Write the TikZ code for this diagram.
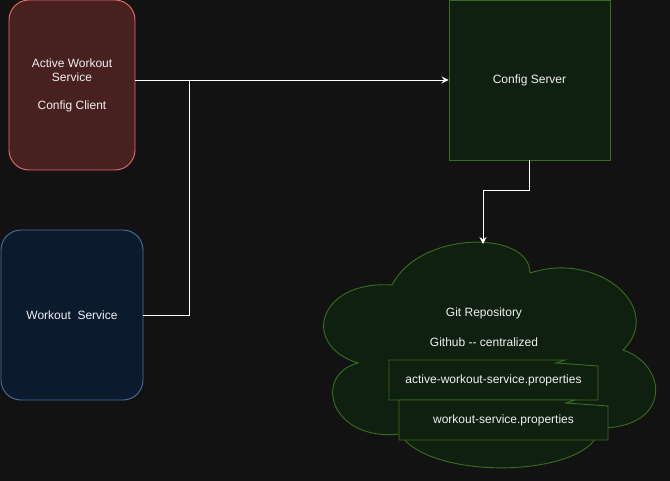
\documentclass[tikz,border=0pt]{standalone}
\usepackage{fontspec}
\setmainfont{Liberation Sans}
\usepackage{tikz}
\usetikzlibrary{calc,arrows.meta}
\definecolor{bgcol}{RGB}{18,18,18}
\definecolor{clientfill}{RGB}{72,32,32}
\definecolor{clientdraw}{RGB}{234,110,107}
\definecolor{servicefill}{RGB}{12,26,46}
\definecolor{servicedraw}{RGB}{74,111,165}
\definecolor{serverfill}{RGB}{16,32,16}
\definecolor{serverdraw}{RGB}{56,110,30}
\definecolor{txtcol}{RGB}{240,240,240}
\tikzstyle{arrow} = [draw=white,-{Stealth[length=7pt,width=7pt,inset=2.5pt]}]

\begin{document}
\begin{tikzpicture}[x=1pt,y=-1pt,line width=0.9pt,every node/.style={font=\fontsize{12}{14}\selectfont,text=txtcol}]
    \tikzstyle{box}=[rectangle,inner sep=0pt,align=center]
    \tikzstyle{client box}=[box,rounded corners=20pt,fill=clientfill,draw=clientdraw,minimum width=126pt,minimum height=170pt]
    \tikzstyle{service box}=[box,rounded corners=20pt,fill=servicefill,draw=servicedraw,minimum width=142pt,minimum height=170pt]
    \tikzstyle{server box}=[box,fill=serverfill,draw=serverdraw,minimum width=161pt,minimum height=160pt]
    \tikzstyle{props}=[fill=serverfill,draw=serverdraw]
    \tikzstyle{line}=[draw=white]

    % Background
    \fill[bgcol] (0,0) rectangle (670,481);
    \useasboundingbox (0,0) rectangle (670,481);

    % Draw the clients and the server
    \node[client box] (active) at (72,85) {Active Workout\\Service\\[14pt]Config Client};
    \node[service box] (workout) at (72,315) {Workout\ \ Service};
    \node[server box] (server) at (529.5,80) {Config Server};

    % Draw the git repository cloud
    \draw[props] (392,285) .. controls (420,230) and (530,230) .. (530,273)
        .. controls (600,250) and (665,310) .. (623,350)
        .. controls (668,365) and (672,428) .. (600,428)
        .. controls (592,478) and (430,482) .. (400,434)
        .. controls (330,442) and (312,375) .. (358,363)
        .. controls (300,345) and (318,280) .. (392,285) -- cycle;
    \coordinate (repo) at (483,244);
    \node (git) at (484,313) {Git Repository};
    \node (hub) at (484,342) {Github -{}- centralized};

    % Draw the property files
    \draw[props] (389,400) -- (389,360) -- (565,360) -- (556,363) -- (598,366) -- (598,400) -- cycle;
    \node (activeprops) at (493.5,380) {active-workout-service.properties};
    \draw[props] (399,440) -- (399,400) -- (575,400) -- (566,403) -- (608,406) -- (608,440) -- cycle;
    \node (workoutprops) at (503.5,420) {workout-service.properties};

    % Draw the connections
    \coordinate (join) at (189,80);
    \draw[arrow] (server.west -| active.east) -- (server.west);
    \draw[line] (workout.east) -| (join);
    \draw[arrow] (server.south) -- ++(0,30) -| (repo);
\end{tikzpicture}
\end{document}
